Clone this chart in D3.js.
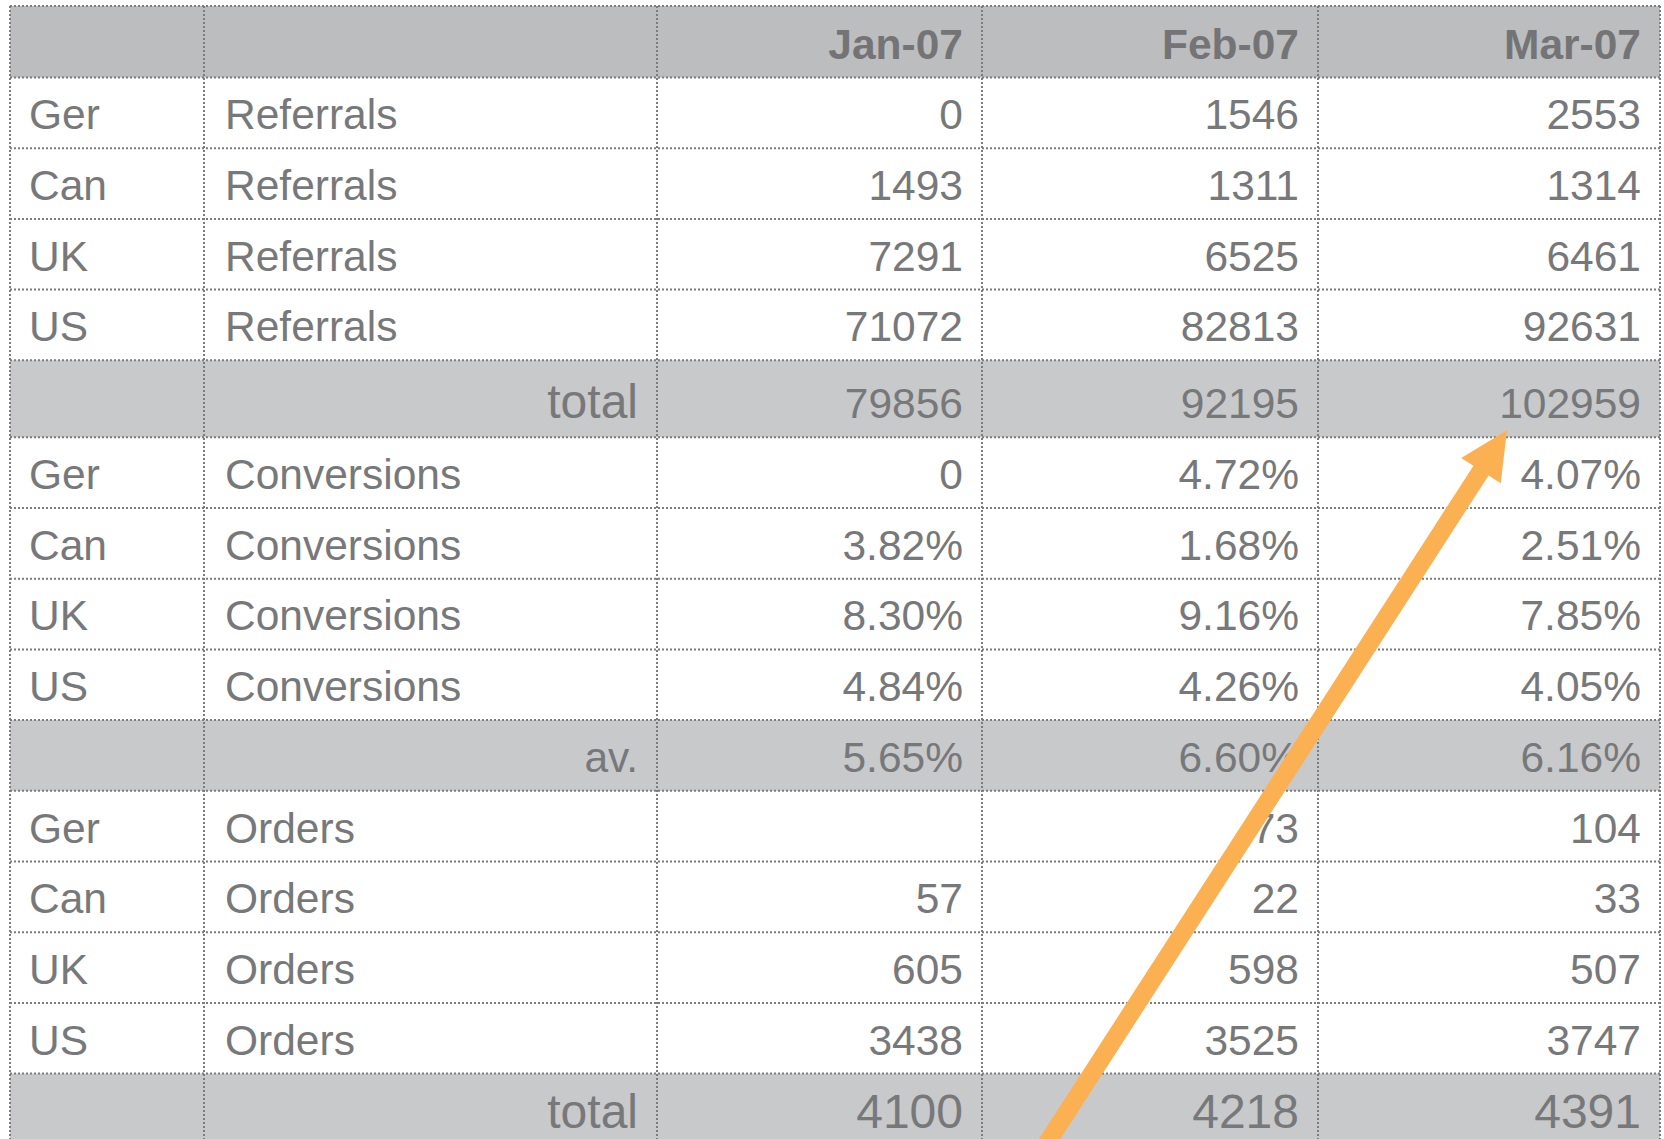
<!DOCTYPE html>
<head>
	<meta charset="utf-8">
	<title>Referrals, conversions and orders</title>
	<script src="https://cdn.jsdelivr.net/npm/d3@7"></script>
	<style>
		html, body { margin: 0; padding: 0; background: white; }
		text {
			font-family: 'Liberation Sans', Arial, sans-serif;
			font-size: 42.5px;
			fill: #77787a;
		}
		.head text { font-weight: bold; fill: #747476; font-size: 42.5px; }
		text.big { font-size: 48px; }
		.grid line {
			stroke: #7c7c7e;
			stroke-width: 2px;
			stroke-dasharray: 2, 2;
		}
	</style>
</head>
<body>
	<script>
		var width = 1664;
		var height = 1139;

		// table data
		var months = ["Jan-07", "Feb-07", "Mar-07"];
		var countries = ["Ger", "Can", "UK", "US"];
		var referrals = [[0, 1546, 2553], [1493, 1311, 1314], [7291, 6525, 6461], [71072, 82813, 92631]];
		var referralTotals = [79856, 92195, 102959];
		var conversions = [[0, 4.72, 4.07], [3.82, 1.68, 2.51], [8.30, 9.16, 7.85], [4.84, 4.26, 4.05]];
		var conversionAvg = [5.65, 6.60, 6.16];
		var orders = [[null, 73, 104], [57, 22, 33], [605, 598, 507], [3438, 3525, 3747]];
		var orderTotals = [4100, 4218, 4391];

		var pct = function(v) { return v === 0 ? "0" : v.toFixed(2) + "%"; };
		var num = function(v) { return v == null ? "" : String(v); };

		// build rows: header, 4 data + summary, three times
		var rows = [{type: "head", cells: ["", ""].concat(months)}];
		countries.forEach(function(c, i) {
			rows.push({type: "data", cells: [c, "Referrals"].concat(referrals[i].map(num))});
		});
		rows.push({type: "total", cells: ["", "total"].concat(referralTotals.map(num))});
		countries.forEach(function(c, i) {
			rows.push({type: "data", cells: [c, "Conversions"].concat(conversions[i].map(pct))});
		});
		rows.push({type: "avg", cells: ["", "av."].concat(conversionAvg.map(pct))});
		countries.forEach(function(c, i) {
			rows.push({type: "data", cells: [c, "Orders"].concat(orders[i].map(num))});
		});
		rows.push({type: "total", last: true, cells: ["", "total"].concat(orderTotals.map(num))});

		// column edges and row edges
		var colEdges = [10, 204, 657, 982, 1318, 1660];
		var padLeft = [19, 21];
		var rowH = {head: 71.5, data: 70.7, total: 77, avg: 70.7};
		var y0 = 6;
		rows.forEach(function(r) {
			r.y = y0;
			r.h = rowH[r.type];
			y0 += r.h;
		});
		var rowEdges = [6].concat(rows.map(function(r) { return r.y + r.h; }));

		var fills = {head: "#bcbdbf", total: "#c8c9cb", avg: "#c8c9cb"};

		var svg = d3.select("body")
			.append("svg")
			.attr("width", width)
			.attr("height", height);

		// row backgrounds
		svg.append("g").selectAll("rect")
			.data(rows.filter(function(r) { return fills[r.type]; }))
			.enter().append("rect")
				.attr("x", colEdges[0])
				.attr("y", function(d) { return d.y; })
				.attr("width", colEdges[5] - colEdges[0])
				.attr("height", function(d) { return d.h; })
				.attr("fill", function(d) { return fills[d.type]; });

		// dotted grid
		var grid = svg.append("g").attr("class", "grid");
		grid.selectAll("line.h")
			.data(rowEdges)
			.enter().append("line")
				.attr("class", "h")
				.attr("x1", colEdges[0]).attr("x2", colEdges[5])
				.attr("y1", function(d) { return d; }).attr("y2", function(d) { return d; });
		grid.selectAll("line.v")
			.data(colEdges)
			.enter().append("line")
				.attr("class", "v")
				.attr("x1", function(d) { return d; }).attr("x2", function(d) { return d; })
				.attr("y1", 6).attr("y2", height + 20);

		// cell texts
		var rowG = svg.append("g").selectAll("g")
			.data(rows)
			.enter().append("g")
				.attr("class", function(d) { return d.type; });

		var leftAligned = function(d) {
			return d.col === 0 || (d.col === 1 && d.row.type === "data");
		};

		rowG.selectAll("text")
			.data(function(r) {
				return r.cells.map(function(t, i) {
					return {text: t, col: i, row: r};
				});
			})
			.enter().append("text")
				// the "total" labels and the last row are set larger
				.attr("class", function(d) {
					return (d.row.last || d.text === "total") ? "big" : null;
				})
				.attr("x", function(d) {
					if (leftAligned(d)) return colEdges[d.col] + padLeft[d.col];
					return colEdges[d.col + 1] - 19;
				})
				.attr("y", function(d) {
					return d.row.last ? d.row.y + 54 : d.row.y + d.row.h - 19;
				})
				.attr("text-anchor", function(d) { return leftAligned(d) ? "start" : "end"; })
				.text(function(d) { return d.text; });

		// orange arrow pointing at the March referral total
		var totalRow = rows[5];
		var tip = [colEdges[4] + 189, totalRow.y + totalRow.h - 7];
		var dir = [-457.5, 709];
		var len = Math.sqrt(dir[0] * dir[0] + dir[1] * dir[1]);
		var u = [dir[0] / len, dir[1] / len];      // from tip towards tail
		var n = [-u[1], u[0]];
		var headLen = 48, headHalf = 23.5;
		var base = [tip[0] + u[0] * headLen, tip[1] + u[1] * headLen];
		var tailT = (height + 30 - tip[1]) / u[1];
		var tail = [tip[0] + u[0] * tailT, tip[1] + u[1] * tailT];

		var arrow = svg.append("g");
		arrow.append("line")
			.attr("x1", tail[0]).attr("y1", tail[1])
			.attr("x2", base[0] - u[0] * 4).attr("y2", base[1] - u[1] * 4)
			.attr("stroke", "#fbb052")
			.attr("stroke-width", 18);
		arrow.append("path")
			.attr("d", d3.line()([
				tip,
				[base[0] + n[0] * headHalf, base[1] + n[1] * headHalf],
				[base[0] - n[0] * headHalf, base[1] - n[1] * headHalf]
			]) + "Z")
			.attr("fill", "#fbb052");
	</script>
</body>
